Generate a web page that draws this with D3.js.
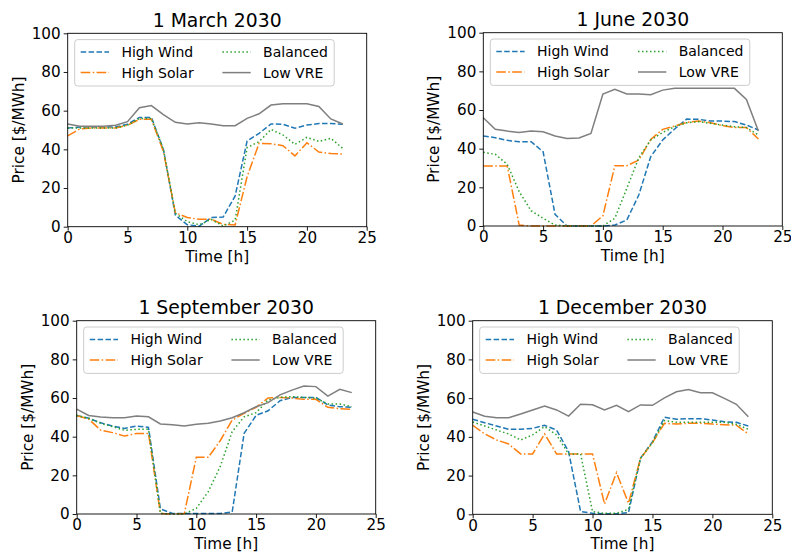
<!DOCTYPE html>
<html>
<head>
<meta charset="utf-8">
<script src="https://cdn.jsdelivr.net/npm/d3@7"></script>
<style>
  body { margin: 0; background: #fff; }
  text { font-family: "DejaVu Sans", sans-serif; fill: #000; }
</style>
</head>
<body>
<svg id="chart" width="791" height="554"></svg>
<script>
const hours = [0, 1, 2, 3, 4, 5, 6, 7, 8, 9, 10, 11, 12, 13, 14, 15, 16, 17, 18, 19, 20, 21, 22, 23];
const seriesNames = ["High Wind", "High Solar", "Balanced", "Low VRE"];
const xTicks = [0, 5, 10, 15, 20, 25];
const yTicks = [0, 20, 40, 60, 80, 100];

// 1 March 2030
const marchWind  = [51, 51.5, 51.5, 51.5, 51.5, 53, 56.5, 56.5, 40, 6, 1, 0.3, 4.7, 5, 15.9, 44.3, 48.3, 53.1, 53, 50.9, 52.6, 53.3, 53.3, 53];
const marchSolar = [47, 50.5, 51, 51, 51, 52.5, 55.5, 55.5, 39, 7.2, 4.8, 3.8, 3.8, 1.2, 0.9, 25.9, 43.1, 42.9, 41.9, 36.6, 43.4, 38.6, 37.8, 37.6];
const marchBal   = [51, 51, 51, 51, 51, 52.5, 56, 56, 40, 7, 2.6, 1, 3.8, 0.3, 3.4, 40.9, 44, 50.3, 47.4, 42.6, 46.2, 44.1, 45.7, 40.5];
const marchLow   = [53.1, 52, 52, 52, 52.5, 54.3, 61.5, 62.6, 58, 54, 53.1, 53.8, 53.1, 52.2, 52.2, 56, 58.4, 62.9, 63.6, 63.6, 63.6, 62.2, 55.7, 53.1];

// 1 June 2030
const juneWind  = [46.6, 45.7, 44.3, 43.6, 43.6, 38.4, 6, 0, 0, 0, 0, 0.5, 3.1, 16, 35.9, 44.5, 50.2, 55.3, 55.2, 54.3, 54.3, 54, 52.2, 49.7];
const juneSolar = [31, 31, 31, 0.5, 0, 0, 0, 0, 0, 0, 5.3, 31.2, 31.2, 34.1, 44.8, 50, 51.7, 53.6, 54.3, 53.4, 51.9, 50.9, 50.9, 45];
const juneBal   = [38.1, 37.1, 31.9, 17.8, 7.9, 4, 0.5, 0, 0, 0, 0, 4, 19.5, 35.3, 44.5, 48.4, 51.4, 53.4, 54, 53.1, 52.2, 51.4, 50.9, 47.1];
const juneLow   = [56, 50, 49.1, 48.4, 49.1, 48.8, 46.6, 45.3, 45.5, 47.9, 68.3, 70.7, 68.3, 68.3, 67.9, 70.3, 71.2, 71.2, 71.2, 71.2, 71.2, 71.2, 65.5, 49.1];

// 1 September 2030
const septWind  = [51, 49.5, 47.2, 45.5, 44.3, 45.5, 44.8, 2.6, 0.3, 0.3, 0.3, 0.3, 0.3, 1, 41.7, 51, 53.4, 58.6, 60.3, 60.3, 60.3, 56.4, 55.5, 55.2];
const septSolar = [51, 49.1, 43.4, 42.1, 40.3, 41.7, 41.7, 0.3, 0, 0.3, 29.3, 29.3, 37.9, 48.6, 52.1, 55.2, 60, 60.3, 60, 59.3, 59.3, 55.2, 54.5, 54.1];
const septBal   = [51, 49.5, 46.9, 45.2, 43.3, 43.8, 43.8, 0.3, 0, 0, 2.9, 11.6, 24.5, 42.6, 50.3, 52.4, 59, 60.3, 60.7, 60.3, 60, 56.9, 56.9, 55.5];
const septLow   = [54.3, 51, 50.2, 49.8, 49.8, 50.7, 50.3, 46.6, 46.2, 45.5, 46.4, 46.9, 48.1, 49.8, 52.4, 55.5, 57.6, 61.6, 64.1, 66.2, 65.9, 61, 64.5, 62.8];

// 1 December 2030
const decWind  = [49.1, 47.3, 45.6, 43.9, 43.9, 44.4, 46, 43.5, 32.4, 1.5, 0.5, 0.3, 0.3, 0.9, 28.9, 37.5, 50.1, 49.1, 49.4, 49.4, 48.7, 47.8, 47.5, 45.6];
const decSolar = [46, 41.5, 38.4, 36.3, 31.2, 31.2, 41.5, 31.2, 31.2, 31.2, 31.2, 5.3, 21.5, 5.7, 28.9, 37, 47, 46.6, 47, 47, 46.6, 46.3, 46, 41.5];
const decBal   = [47.7, 45.6, 43.5, 41.5, 38.4, 41, 45.3, 41, 31.2, 31.2, 1.4, 0.5, 0.5, 2.6, 28.9, 37, 48.4, 47.5, 47.5, 47.5, 47.5, 47.5, 46.5, 43.9];
const decLow   = [52.8, 50.7, 49.9, 49.9, 51.8, 53.9, 55.9, 53.9, 50.7, 56.8, 56.6, 53.9, 56.3, 53, 56.5, 56.3, 60.1, 63.3, 64.5, 62.8, 62.8, 59.9, 56.8, 50.4];

const panels = [
    { title: "1 March 2030", series: [marchWind, marchSolar, marchBal, marchLow], box: [67.7, 33.3, 366.7, 226.7] },
    { title: "1 June 2030", series: [juneWind, juneSolar, juneBal, juneLow], box: [483.3, 32.7, 782.3, 226] },
    { title: "1 September 2030", series: [septWind, septSolar, septBal, septLow], box: [76.7, 320.7, 375.7, 514] },
    { title: "1 December 2030", series: [decWind, decSolar, decBal, decLow], box: [472.7, 320.7, 772.3, 514.3] }
];

const styles = {
    "High Wind":  { color: "#1f77b4", dash: "5.5,2.4" },
    "High Solar": { color: "#ff7f0e", dash: "9.6,2.4,1.5,2.4" },
    "Balanced":   { color: "#2ca02c", dash: "1.5,2.5" },
    "Low VRE":    { color: "#7f7f7f", dash: null }
};

const svg = d3.select("#chart");

function drawPanel(p) {
    const [x0, y0, x1, y1] = p.box;
    const g = svg.append("g");

    const xScale = d3.scaleLinear().domain([0, 25]).range([x0, x1]);
    const yScale = d3.scaleLinear().domain([0, 100]).range([y1, y0]);

    const line = d3.line()
        .x(d => xScale(d[0]))
        .y(d => yScale(d[1]));

    // lines
    p.series.forEach((vals, i) => {
        const st = styles[seriesNames[i]];
        g.append("path")
            .datum(hours.map((h, j) => [h, vals[j]]))
            .attr("d", line)
            .attr("fill", "none")
            .attr("stroke", st.color)
            .attr("stroke-width", 1.5)
            .attr("stroke-dasharray", st.dash);
    });

    // axes
    const xAxis = g.append("g")
        .attr("transform", `translate(0, ${y1})`)
        .call(d3.axisBottom(xScale).tickValues(xTicks).tickSize(4).tickPadding(1.5));
    const yAxis = g.append("g")
        .attr("transform", `translate(${x0}, 0)`)
        .call(d3.axisLeft(yScale).tickValues(yTicks).tickSize(4).tickPadding(3));
    [xAxis, yAxis].forEach(a => {
        a.select(".domain").remove();
        a.selectAll("line").attr("stroke", "#000").attr("stroke-width", 0.9);
        a.selectAll("text").style("font-size", "15.2px").style("font-family", "DejaVu Sans");
    });

    // frame
    g.append("rect")
        .attr("x", x0).attr("y", y0)
        .attr("width", x1 - x0).attr("height", y1 - y0)
        .attr("fill", "none")
        .attr("stroke", "#000")
        .attr("stroke-width", 0.9);

    // title and labels
    g.append("text")
        .attr("x", (x0 + x1) / 2)
        .attr("y", y0 - 6.5)
        .attr("text-anchor", "middle")
        .style("font-size", "18.8px")
        .text(p.title);

    g.append("text")
        .attr("x", (x0 + x1) / 2)
        .attr("y", y1 + 35)
        .attr("text-anchor", "middle")
        .style("font-size", "15.3px")
        .text("Time [h]");

    g.append("text")
        .attr("transform", `translate(${x0 - 44}, ${(y0 + y1) / 2}) rotate(-90)`)
        .attr("text-anchor", "middle")
        .style("font-size", "15.3px")
        .text("Price [$/MWh]");

    // legend
    const lg = g.append("g").attr("transform", `translate(${x0 + 7}, ${y0 + 6.3})`);
    lg.append("rect")
        .attr("width", 259.5)
        .attr("height", 46.4)
        .attr("rx", 3)
        .attr("fill", "#fff")
        .attr("fill-opacity", 0.8)
        .attr("stroke", "#cccccc")
        .attr("stroke-width", 1);

    // column-major order: High Wind, High Solar | Balanced, Low VRE
    const items = lg.selectAll("g.item")
        .data(seriesNames)
        .join("g")
        .attr("class", "item")
        .attr("transform", (d, i) => `translate(${i < 2 ? 6 : 147.7}, ${i % 2 === 0 ? 12.4 : 33})`);

    items.append("line")
        .attr("x1", 0).attr("x2", 28.3)
        .attr("stroke", d => styles[d].color)
        .attr("stroke-width", 1.5)
        .attr("stroke-dasharray", d => styles[d].dash);

    items.append("text")
        .attr("x", 40.7)
        .attr("dy", "0.36em")
        .style("font-size", "14px")
        .text(d => d);
}

panels.forEach(drawPanel);
</script>
</body>
</html>
